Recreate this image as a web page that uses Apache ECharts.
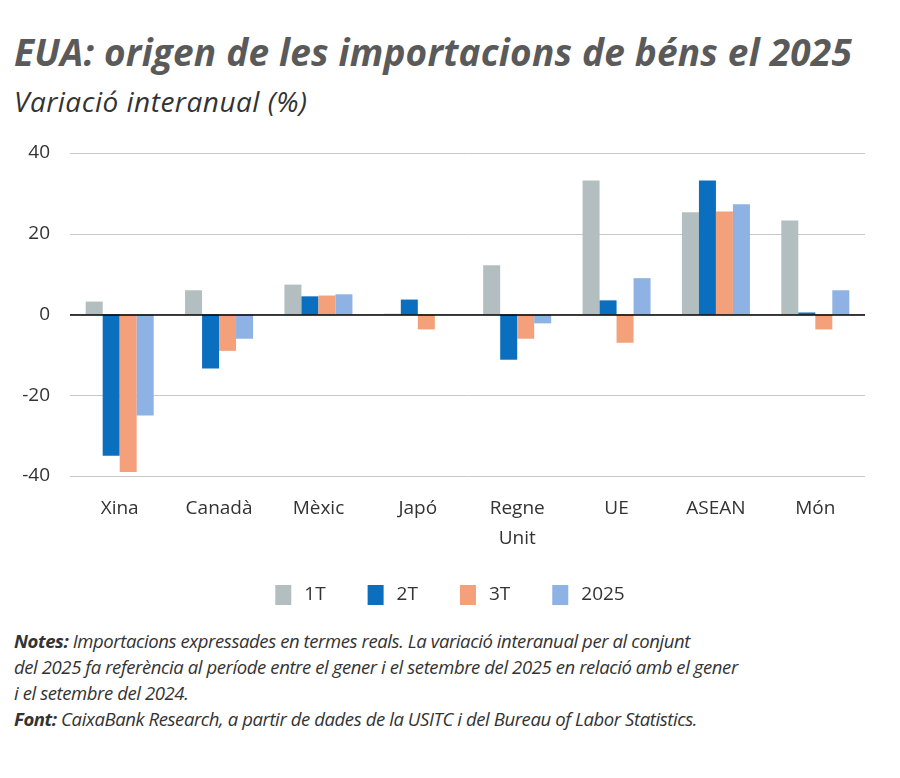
<!DOCTYPE html>
<html><head><meta charset="utf-8">
<script src="https://cdn.jsdelivr.net/npm/echarts@6/dist/echarts.min.js"></script>
<style>
body{margin:0;background:#fff;font-family:"Open Sans",sans-serif;}
#t{position:absolute;left:14px;top:26px;font-size:37px;font-weight:bold;font-style:italic;color:#5a5a5a;letter-spacing:0.2px;white-space:nowrap}
#s{position:absolute;left:14px;top:82px;font-size:28px;font-style:italic;color:#333;letter-spacing:0.5px}
#c{position:absolute;left:0;top:120px;width:900px;height:500px}
#n{position:absolute;left:14px;top:628px;width:880px;font-size:18.5px;font-style:italic;color:#333;line-height:26px;letter-spacing:-0.4px;white-space:nowrap}
</style></head><body>
<div id="t">EUA: origen de les importacions de béns el 2025</div>
<div id="s">Variació interanual (%)</div>
<div id="c"></div>
<div id="n"><b>Notes:</b> Importacions expressades en termes reals. La variació interanual per al conjunt<br>del 2025 fa referència al període entre el gener i el setembre del 2025 en relació amb el gener<br>i el setembre del 2024.<br><b>Font:</b> CaixaBank Research, a partir de dades de la USITC i del Bureau of Labor Statistics.</div>
<script>
const categories=["Xina","Canadà","Mèxic","Japó","Regne\nUnit","UE","ASEAN","Món"];
const t1=[3.2,6,7.4,0.2,12.2,33.2,25.3,23.3];
const t2=[-35,-13.4,4.5,3.7,-11.2,3.5,33.2,0.5];
const t3=[-39,-9,4.7,-3.7,-6,-7,25.5,-3.7];
const y2025=[-25,-6,5,0,-2.2,9,27.3,6];
const names=["1T","2T","3T","2025"];
const colors=["#b3bec0","#0b6fbf","#f4a07a","#8db2e3"];
const data=[t1,t2,t3,y2025];
const ch=echarts.init(document.getElementById('c'));
ch.setOption({
 animation:false,
 grid:{left:70,right:35,top:33,height:323},
 legend:{bottom:10,left:'center',itemWidth:16,itemHeight:20,itemGap:42,icon:'rect',textStyle:{fontSize:19,color:'#333',fontFamily:'Open Sans',padding:[0,0,0,8]},data:names},
 xAxis:{type:'category',data:categories,axisLine:{onZero:false,show:false},axisTick:{show:false},
  axisLabel:{fontSize:19,color:'#333',margin:18,lineHeight:30,fontFamily:'Open Sans'}},
 yAxis:{type:'value',min:-40,max:40,interval:20,axisLabel:{fontSize:19,color:'#333',margin:20,fontFamily:'Open Sans'},
  splitLine:{lineStyle:{color:'#c8c8c8'}}},
 series:data.map((d,i)=>({name:names[i],type:'bar',data:d,barWidth:17,barGap:'0%',itemStyle:{color:colors[i]},
  markLine:i==0?{symbol:'none',silent:true,label:{show:false},lineStyle:{color:'#000',width:1.5,type:'solid'},data:[{yAxis:0}]}:undefined}))
});
</script></body></html>
